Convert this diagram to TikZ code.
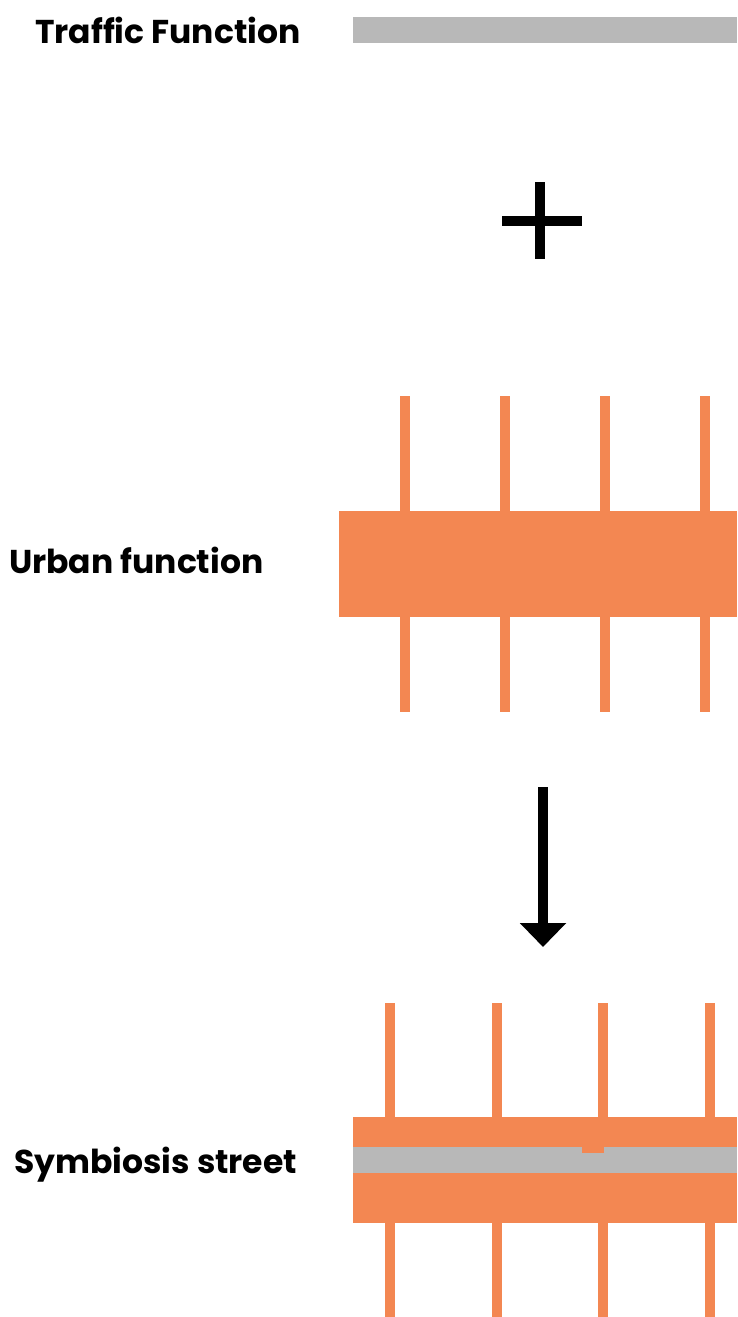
\documentclass[tikz,border=0pt]{standalone}
\usepackage{fontspec}
\newfontfamily\labelfont{Poppins}
\usepackage{tikz}
\usetikzlibrary{arrows.meta}
\definecolor{urbanorange}{HTML}{F38752}
\definecolor{trafficgray}{HTML}{B8B8B8}
\tikzset{
  fnlabel/.style={anchor=base west, inner sep=0pt, font=\labelfont\bfseries\fontsize{33}{33}\selectfont},
  crossing/.style={urbanorange, line width=10pt},
  thickline/.style={black, line width=10pt}
}

\begin{document}
\begin{tikzpicture}[x=1pt, y=-1pt]
    \useasboundingbox (0, 0) rectangle (737, 1317);

    % Labels
    \node[fnlabel](T) at (35, 43) {Traffic Function};
    \node[fnlabel](U) at (9, 573) {Urban function};
    \node[fnlabel](S) at (14, 1173) {Symbiosis street};

    % Traffic function
    \fill[trafficgray] (353, 17) rectangle (737, 43);

    % Plus
    \draw[thickline] (502, 221) -- (582, 221);
    \draw[thickline] (540, 182) -- (540, 259);

    % Urban function
    \foreach \x in {405, 505, 605, 705}
        \draw[crossing] (\x, 396) -- (\x, 712);
    \fill[urbanorange] (339, 511) rectangle (737, 617);

    % Arrow
    \coordinate(A1) at (543, 787);
    \coordinate(A2) at (543, 947);
    \draw[thickline, -{Triangle[width=45pt, length=24pt]}] (A1) -- (A2);

    % Symbiosis street
    \foreach \x in {389.5, 496.5, 603, 709.5}
        \draw[crossing] (\x, 1003) -- (\x, 1317);
    \fill[urbanorange] (353, 1117) rectangle (737, 1223);
    \fill[trafficgray] (353, 1147) rectangle (737, 1173);
    \fill[urbanorange] (582, 1147) rectangle (604, 1153);
\end{tikzpicture}
\end{document}
